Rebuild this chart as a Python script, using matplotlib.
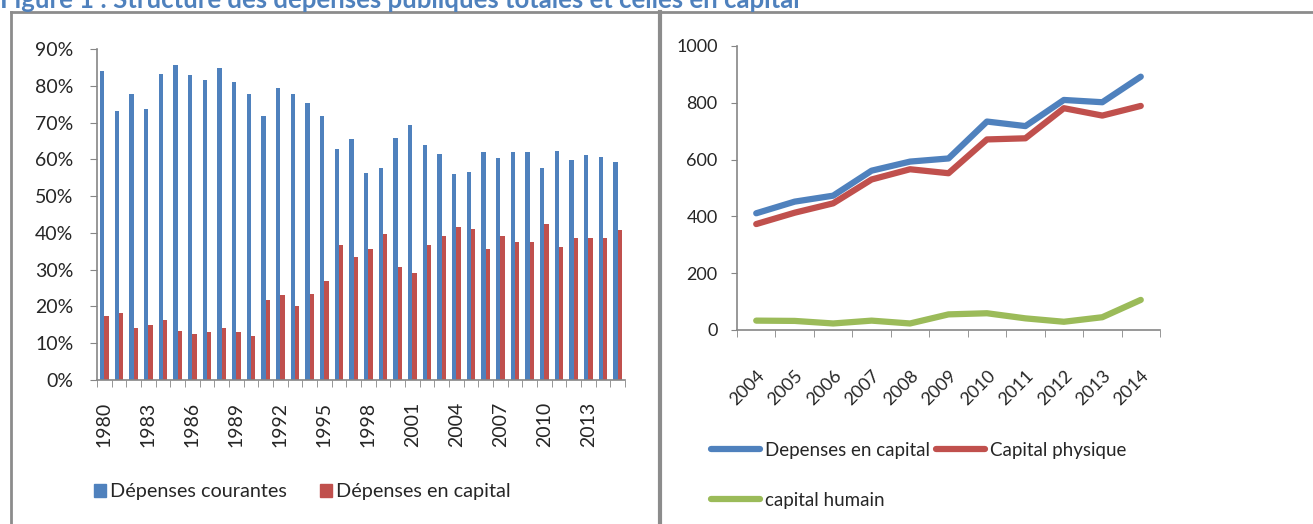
import matplotlib
matplotlib.use("Agg")
import matplotlib.pyplot as plt
import numpy as np
from matplotlib.lines import Line2D
from matplotlib.patches import Patch

plt.rcParams['font.family'] = ['Lato', 'DejaVu Sans']

# left chart: share of total public spending
years_left = list(range(1980, 2016))
courantes = [84.0, 73.2, 77.9, 73.6, 83.2, 85.6, 82.9, 81.5, 84.9, 81.1,
             77.9, 71.9, 79.5, 77.9, 75.2, 71.9, 62.8, 65.5, 56.3, 57.7,
             65.9, 69.4, 64.0, 61.4, 55.9, 56.6, 61.9, 60.4, 61.9, 61.9,
             57.7, 62.3, 59.9, 61.1, 60.7, 59.2]
capital = [17.4, 18.2, 14.2, 15.0, 16.3, 13.3, 12.6, 13.1, 14.2, 13.1,
           11.9, 21.8, 23.2, 20.2, 23.4, 26.8, 36.7, 33.5, 35.6, 39.6,
           30.6, 29.0, 36.8, 39.2, 41.6, 41.1, 35.5, 39.2, 37.5, 37.5,
           42.3, 36.2, 38.6, 38.6, 38.6, 40.7]

# right chart: capital spending
years_right = list(range(2004, 2015))
dep_capital = [411, 452, 473, 561, 593, 604, 734, 718, 810, 802, 892]
cap_physique = [373, 413, 446, 530, 566, 552, 671, 675, 781, 755, 789]
cap_humain = [33, 32, 23, 33, 23, 55, 59, 41, 29, 45, 106]

BLUE = "#4F81BD"
RED = "#C0504D"
GREEN = "#9BBB59"
AXIS = "#868686"
TXT = "#262626"

fig = plt.figure(figsize=(13.13, 5.24), dpi=100)

# title (cut at the top like the scanned page)
fig.text(0.0, 1 - 8 / 524, "Figure 1 : Structure des dépenses publiques totales et celles en capital",
         color="#4F81BD", fontsize=18.5, fontweight="bold", va="baseline", ha="left")

# panel frames
frame_kw = dict(transform=fig.transFigure, color="#8C8C8C")
fig.add_artist(Line2D([11 / 1313, 1], [1 - 12 / 524, 1 - 12 / 524], lw=2, **frame_kw))
fig.add_artist(Line2D([11 / 1313, 11 / 1313], [0, 1 - 12 / 524], lw=2, **frame_kw))
fig.add_artist(Line2D([660 / 1313, 660 / 1313], [0, 1 - 12 / 524], lw=3, **frame_kw))


def style_axes(ax, size):
    for s in ["top", "right"]:
        ax.spines[s].set_visible(False)
    for s in ["left", "bottom"]:
        ax.spines[s].set_color(AXIS)
        ax.spines[s].set_linewidth(1.2)
    ax.tick_params(which="both", color=AXIS, labelcolor=TXT, labelsize=size)


# ---- left: bars
ax1 = fig.add_axes([97 / 1313, 1 - 380 / 524, 528 / 1313, 331 / 524])
x = np.arange(len(years_left))
w = 0.3
ax1.bar(x - w / 2, courantes, width=w, color=BLUE, label="Dépenses courantes")
ax1.bar(x + w / 2, capital, width=w, color=RED, label="Dépenses en capital")
ax1.set_xlim(-0.5, len(years_left) - 0.5)
ax1.set_ylim(0, 90)
ax1.set_yticks(np.arange(0, 91, 10))
ax1.set_yticklabels([f"{v}%" for v in range(0, 91, 10)])
ax1.set_xticks(x[::3])
ax1.set_xticklabels([str(y) for y in years_left[::3]], rotation=90)
ax1.set_xticks(np.arange(-0.5, len(years_left)), minor=True)
ax1.tick_params(axis="x", which="major", length=0, pad=16)
ax1.tick_params(axis="x", which="minor", length=5, direction="out")
ax1.tick_params(axis="y", length=5, direction="out", pad=12)
style_axes(ax1, 14)

h1 = [Patch(color=BLUE), Patch(color=RED)]
fig.legend(h1, ["Dépenses courantes", "Dépenses en capital"], ncol=2,
           loc="center left", bbox_to_anchor=(76 / 1313, 1 - 492 / 524),
           frameon=False, fontsize=14.3, handlelength=0.6, handleheight=0.6,
           handletextpad=0.2, columnspacing=1.7, labelcolor=TXT)

# ---- right: lines
ax2 = fig.add_axes([737 / 1313, 1 - 330 / 524, 423 / 1313, 284 / 524])
xr = np.arange(len(years_right))
l_dep, = ax2.plot(xr, dep_capital, color=BLUE, lw=4.5, solid_capstyle="round")
l_phy, = ax2.plot(xr, cap_physique, color=RED, lw=4.5, solid_capstyle="round")
l_hum, = ax2.plot(xr, cap_humain, color=GREEN, lw=4.5, solid_capstyle="round")
ax2.set_xlim(-0.5, len(years_right) - 0.5)
ax2.set_ylim(0, 1000)
ax2.set_yticks(np.arange(0, 1001, 200))
ax2.set_xticks(xr)
ax2.set_xticklabels([str(y) for y in years_right], rotation=45, ha="right",
                    rotation_mode="anchor")
ax2.set_xticks(np.arange(-0.5, len(years_right)), minor=True)
ax2.tick_params(axis="x", which="major", length=0, pad=27)
ax2.tick_params(axis="x", which="minor", length=5, direction="out")
ax2.tick_params(axis="y", length=4, direction="out", pad=10)
style_axes(ax2, 13)

fig.legend([l_dep, l_hum, l_phy], ["Depenses en capital", "capital humain", "Capital physique"],
           ncol=2, loc="upper left", bbox_to_anchor=(694 / 1313, 1 - 425 / 524),
           frameon=False, fontsize=13.5, handlelength=2.6, handletextpad=0.3,
           columnspacing=0.3, labelspacing=1.75, labelcolor=TXT)

fig.savefig("out.png", dpi=100)
